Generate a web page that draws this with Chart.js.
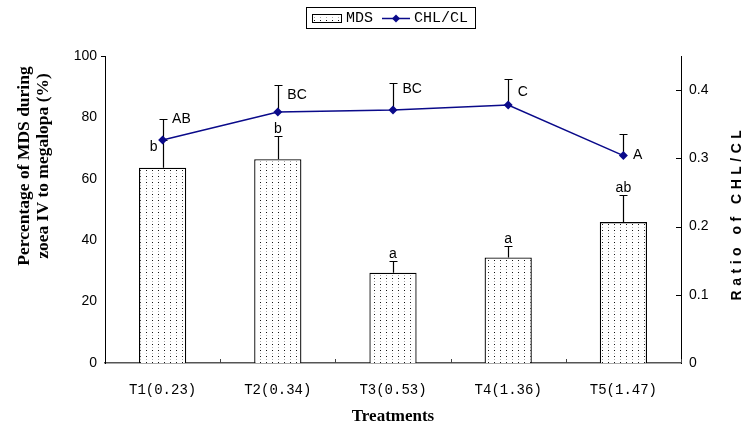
<!DOCTYPE html>
<html>
<head>
<meta charset="utf-8">
<script src="https://cdn.jsdelivr.net/npm/chart.js@4"></script>
<style>
  html, body { margin: 0; padding: 0; background: #fff; }
  #c { display: block; }
</style>
</head>
<body>
<canvas id="c" width="746" height="427"></canvas>
<script>
// Treatments and their measured values
const categories = ['T1(0.23)', 'T2(0.34)', 'T3(0.53)', 'T4(1.36)', 'T5(1.47)'];
const mdsPercent = [63.6, 66.4, 29.4, 34.4, 45.9];
const mdsError = [9.0, 7.5, 3.8, 3.8, 8.8];
const chlRatio = [0.327, 0.368, 0.371, 0.378, 0.304];
const chlError = [0.031, 0.039, 0.039, 0.039, 0.031];
const mdsLetters = ['b', 'b', 'a', 'a', 'ab'];
const chlLetters = ['AB', 'BC', 'BC', 'C', 'A'];
const leftTicks = [0, 20, 40, 60, 80, 100];
const rightTicks = [0, 0.1, 0.2, 0.3, 0.4];

const NAVY = '#0a0a8a';
const SERIF = '"Liberation Serif", "DejaVu Serif", serif';
const MONO = '"Liberation Mono", "DejaVu Sans Mono", monospace';
const SANS = '"Liberation Sans", Arial, sans-serif';

// Stippled fill used for the MDS bars
function makeDots() {
  const p = document.createElement('canvas');
  p.width = 6; p.height = 6;
  const g = p.getContext('2d');
  g.fillStyle = '#fff'; g.fillRect(0, 0, 6, 6);
  g.fillStyle = '#111'; g.fillRect(2, 2, 1, 1);
  g.fillStyle = '#aaa'; g.fillRect(2, 5, 1, 1);
  return g.createPattern(p, 'repeat');
}
const dots = makeDots();

function drawErrors(chart, meta, values, errs, scaleId) {
  const sc = chart.scales[scaleId];
  const ctx = chart.ctx;
  ctx.save();
  ctx.strokeStyle = '#000';
  ctx.lineWidth = 1.2;
  meta.data.forEach((el, i) => {
    const x = Math.round(el.x) + 0.5;
    const y0 = sc.getPixelForValue(values[i]);
    const y1 = Math.round(sc.getPixelForValue(values[i] + errs[i])) + 0.5;
    ctx.beginPath();
    ctx.moveTo(x, y0); ctx.lineTo(x, y1);
    ctx.moveTo(x - 4, y1); ctx.lineTo(x + 4, y1);
    ctx.stroke();
  });
  ctx.restore();
}

const errorBars = {
  id: 'errorBars',
  beforeDatasetDraw(chart, args) {
    if (args.meta.type === 'line') drawErrors(chart, args.meta, chlRatio, chlError, 'y1');
  },
  afterDatasetDraw(chart, args) {
    if (args.meta.type === 'bar') drawErrors(chart, args.meta, mdsPercent, mdsError, 'y');
  }
};

// Significance letters next to the error bars
const letters = {
  id: 'letters',
  afterDatasetsDraw(chart, args, opts) {
    const ctx = chart.ctx;
    const y = chart.scales.y, y1 = chart.scales.y1;
    const barMeta = chart.getDatasetMeta(0), lineMeta = chart.getDatasetMeta(1);
    ctx.save();
    ctx.fillStyle = '#000';
    ctx.font = '14px ' + SANS;
    barMeta.data.forEach((el, i) => {
      const cap = y.getPixelForValue(mdsPercent[i] + mdsError[i]);
      if (opts.barPlace[i] === 'left') {
        ctx.textAlign = 'right'; ctx.textBaseline = 'middle';
        ctx.fillText(mdsLetters[i], el.x - 5, cap + 7);
      } else {
        ctx.textAlign = 'center'; ctx.textBaseline = 'alphabetic';
        ctx.fillText(mdsLetters[i], el.x, cap - 3);
      }
    });
    lineMeta.data.forEach((el, i) => {
      const cap = y1.getPixelForValue(chlRatio[i] + chlError[i]);
      const pt = y1.getPixelForValue(chlRatio[i]);
      ctx.textAlign = 'left'; ctx.textBaseline = 'middle';
      ctx.fillText(chlLetters[i], el.x + 9.5, cap + opts.lineShift[i] * (pt - cap));
    });
    ctx.restore();
  }
};

// Inward tick marks, axis titles and the framed legend
const decorations = {
  id: 'decorations',
  afterDraw(chart) {
    const ctx = chart.ctx;
    const a = chart.chartArea;
    const x = chart.scales.x, y1 = chart.scales.y1;
    ctx.save();
    // right axis ticks pointing into the plot
    ctx.strokeStyle = '#000'; ctx.lineWidth = 1;
    rightTicks.forEach(v => {
      if (v === 0) return;
      const py = Math.round(y1.getPixelForValue(v)) + 0.5;
      ctx.beginPath(); ctx.moveTo(a.right - 5, py); ctx.lineTo(a.right, py); ctx.stroke();
    });
    // small cap at the top of the left axis
    ctx.beginPath(); ctx.moveTo(a.left - 4, a.top + 0.5); ctx.lineTo(a.left, a.top + 0.5); ctx.stroke();
    // category boundary ticks on the x axis
    ctx.strokeStyle = '#444';
    for (let i = 1; i < categories.length; i++) {
      const px = Math.round((x.getPixelForValue(i - 1) + x.getPixelForValue(i)) / 2) + 0.5;
      ctx.beginPath(); ctx.moveTo(px, a.bottom); ctx.lineTo(px, a.bottom - 4); ctx.stroke();
    }
    ctx.beginPath(); ctx.moveTo(a.right + 0.5, a.bottom); ctx.lineTo(a.right + 0.5, a.bottom - 4); ctx.stroke();

    ctx.fillStyle = '#000';
    // left axis title
    ctx.save();
    ctx.translate(24, 166);
    ctx.rotate(-Math.PI / 2);
    ctx.font = 'bold 17.5px ' + SERIF;
    ctx.textAlign = 'center'; ctx.textBaseline = 'middle';
    ctx.fillText('Percentage of MDS during', 0, 0);
    ctx.fillText('zoea IV to megalopa (%)', 0, 19);
    ctx.restore();
    // right axis title
    ctx.save();
    ctx.translate(737, 213);
    ctx.rotate(-Math.PI / 2);
    ctx.font = 'bold 14px ' + SANS;
    if ('letterSpacing' in ctx) ctx.letterSpacing = '4.5px';
    ctx.textAlign = 'center'; ctx.textBaseline = 'middle';
    ctx.fillText('Ratio of CHL/CL', 0, 0);
    ctx.restore();
    // x axis title
    ctx.font = 'bold 17px ' + SERIF;
    ctx.textAlign = 'center'; ctx.textBaseline = 'middle';
    ctx.fillText('Treatments', (a.left + a.right) / 2, 417);

    // legend
    ctx.lineWidth = 1;
    ctx.strokeStyle = '#000';
    ctx.strokeRect(306.5, 7.5, 169, 21);
    ctx.fillStyle = dots;
    ctx.fillRect(312, 14, 30, 9);
    ctx.strokeRect(312.5, 14.5, 29, 8);
    ctx.fillStyle = '#000';
    ctx.font = '15px ' + MONO;
    ctx.textAlign = 'left'; ctx.textBaseline = 'middle';
    ctx.fillText('MDS', 346, 18.5);
    ctx.strokeStyle = NAVY; ctx.lineWidth = 1.5;
    ctx.beginPath(); ctx.moveTo(382, 18.5); ctx.lineTo(410, 18.5); ctx.stroke();
    ctx.fillStyle = NAVY;
    ctx.beginPath();
    ctx.moveTo(396, 14.5); ctx.lineTo(400, 18.5); ctx.lineTo(396, 22.5); ctx.lineTo(392, 18.5);
    ctx.closePath(); ctx.fill();
    ctx.fillStyle = '#000';
    ctx.fillText('CHL/CL', 414, 18.5);
    ctx.restore();
  }
};

new Chart(document.getElementById('c'), {
  data: {
    labels: categories,
    datasets: [
      {
        type: 'bar',
        label: 'MDS',
        data: mdsPercent,
        yAxisID: 'y',
        backgroundColor: dots,
        borderColor: '#000',
        borderWidth: 1.3,
        barPercentage: 0.41,
        categoryPercentage: 1,
        order: 1
      },
      {
        type: 'line',
        label: 'CHL/CL',
        data: chlRatio,
        yAxisID: 'y1',
        borderColor: NAVY,
        backgroundColor: NAVY,
        borderWidth: 1.5,
        pointStyle: 'rectRot',
        pointRadius: 4.5,
        pointBorderWidth: 0,
        tension: 0,
        order: 0
      }
    ]
  },
  options: {
    responsive: false,
    animation: false,
    devicePixelRatio: 1,
    layout: { padding: { top: 56, left: 0, right: 0, bottom: 0 } },
    plugins: {
      legend: { display: false },
      tooltip: { enabled: false },
      letters: {
        barPlace: ['left', 'above', 'above', 'above', 'above'],
        lineShift: [0.03, 0.38, 0.21, 0.5, 1.0]
      }
    },
    scales: {
      x: {
        offset: true,
        grid: { display: false, drawTicks: false },
        border: { display: true, color: '#555', width: 1.5 },
        ticks: { color: '#000', font: { family: MONO, size: 14 }, padding: 19 },
        afterFit(s) { s.height = 64; }
      },
      y: {
        position: 'left',
        min: 0, max: 100,
        afterBuildTicks(s) { s.ticks = leftTicks.map(v => ({ value: v })); },
        grid: { display: false, drawTicks: false },
        border: { display: true, color: '#000', width: 1 },
        ticks: { color: '#000', font: { family: SANS, size: 14 }, padding: 8 },
        afterFit(s) { s.width = 105; }
      },
      y1: {
        position: 'right',
        min: 0, max: 0.45,
        afterBuildTicks(s) { s.ticks = rightTicks.map(v => ({ value: v })); },
        grid: { display: false, drawTicks: false },
        border: { display: true, color: '#000', width: 1 },
        ticks: {
          color: '#000', font: { family: SANS, size: 14 }, padding: 8,
          callback: v => String(Math.round(v * 10) / 10)
        },
        afterFit(s) { s.width = 65; }
      }
    }
  },
  plugins: [errorBars, letters, decorations]
});
</script>
</body>
</html>
